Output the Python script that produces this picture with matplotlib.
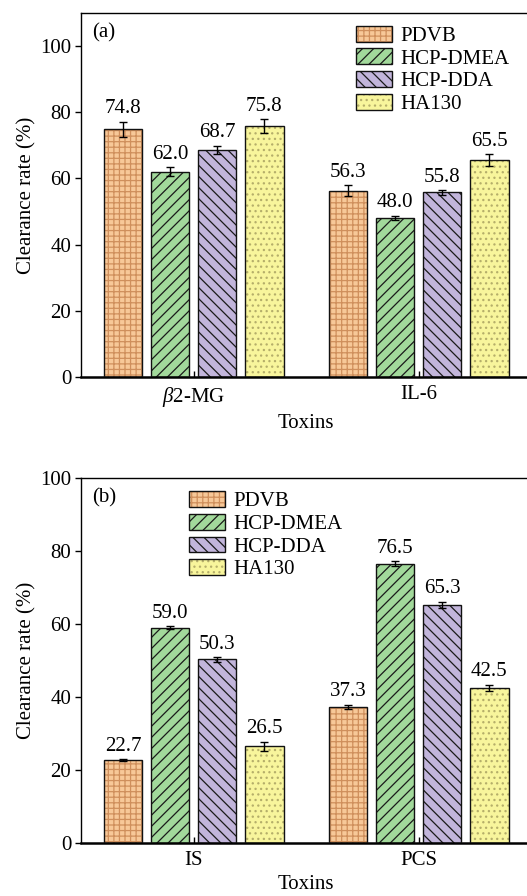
import matplotlib
matplotlib.use('Agg')
import matplotlib.pyplot as plt
import numpy as np
from matplotlib.patches import Patch

plt.rcParams['font.family'] = ['Liberation Serif', 'DejaVu Serif']
plt.rcParams['mathtext.fontset'] = 'custom'
plt.rcParams['mathtext.rm'] = 'Liberation Serif'
plt.rcParams['mathtext.it'] = 'Liberation Serif:italic'
plt.rcParams['hatch.linewidth'] = 0.9

# Adsorbents and their styling
materials = ['PDVB', 'HCP-DMEA', 'HCP-DDA', 'HA130']
fills = ['#f7c898', '#a2d99b', '#c2b5db', '#f8f59c']
hatch_colors = ['#cf8f5c', '#1a1a1a', '#1a1a1a', '#b5ae6a']
hatches = ['+++', '///', '\\\\\\', '...']

# (a) middle-molecule toxins
toxins_a = [r'$\beta$2-MG', 'IL-6']
rates_a = [[74.8, 56.3],   # PDVB
           [62.0, 48.0],   # HCP-DMEA
           [68.7, 55.8],   # HCP-DDA
           [75.8, 65.5]]   # HA130
errors_a = [[2.4, 1.7],
            [1.4, 0.7],
            [1.2, 0.7],
            [2.1, 1.8]]

# (b) protein-bound toxins
toxins_b = ['IS', 'PCS']
rates_b = [[22.7, 37.3],
           [59.0, 76.5],
           [50.3, 65.3],
           [26.5, 42.5]]
errors_b = [[0.3, 0.6],
            [0.4, 0.7],
            [0.6, 0.8],
            [1.2, 0.8]]

FS = 15

fig = plt.figure(figsize=(5.27, 8.96), dpi=100)
ax_a = fig.add_axes([81/527, (896-377)/896, 450/527, 364/896])
ax_b = fig.add_axes([81/527, (896-843)/896, 450/527, 365/896])


def draw(ax, cats, rates, errs, ymax, tag, leg_anchor):
    x = np.arange(len(cats))
    step, width = 0.209, 0.173
    handles = []
    for i, name in enumerate(materials):
        pos = x + (i - 1.5) * step
        ax.bar(pos, rates[i], width, color=fills[i], edgecolor=hatch_colors[i],
               hatch=hatches[i], linewidth=0, zorder=2)
        ax.bar(pos, rates[i], width, fill=False, edgecolor='#111111',
               linewidth=1.0, zorder=3)
        ax.errorbar(pos, rates[i], yerr=errs[i], fmt='none', ecolor='black',
                    elinewidth=1, capsize=3, capthick=1, zorder=4)
        for p, v, e in zip(pos, rates[i], errs[i]):
            ax.annotate(f'{v:.1f}', (p, v + e), xytext=(0, 2.5),
                        textcoords='offset points', ha='center', va='bottom',
                        fontsize=FS)
        handles.append((Patch(facecolor=fills[i], edgecolor=hatch_colors[i],
                              hatch=hatches[i], linewidth=0),
                        Patch(fill=False, edgecolor='#111111', linewidth=1.0)))

    ax.set_xlim(-0.5, 1.5)
    ax.set_ylim(0, ymax)
    ax.set_xticks(x)
    ax.set_xticklabels(cats, fontsize=FS)
    ax.set_yticks(np.arange(0, 101, 20))
    ax.tick_params(axis='y', direction='out', length=4, width=1,
                   labelsize=FS, pad=3)
    ax.tick_params(axis='x', direction='in', length=4, width=1,
                   labelsize=FS, pad=6)
    for s in ('left', 'top', 'right'):
        ax.spines[s].set_linewidth(1.0)
    ax.spines['bottom'].set_linewidth(1.8)

    ax.set_xlabel('Toxins', fontsize=FS, labelpad=3)
    ax.set_ylabel('Clearance rate (%)', fontsize=FS)
    ax.yaxis.set_label_coords(-0.10, 0.5)

    ax.text(0.024, 0.945, tag, transform=ax.transAxes, fontsize=FS,
            ha='left', va='center')

    ax.legend(handles, materials, loc='upper left', bbox_to_anchor=leg_anchor,
              frameon=False, fontsize=FS, borderpad=0, borderaxespad=0,
              handlelength=1.75, handleheight=0.8, handletextpad=0.4,
              labelspacing=0.12)


draw(ax_a, toxins_a, rates_a, errors_a, 110, '(a)', (0.611, 0.965))
draw(ax_b, toxins_b, rates_b, errors_b, 100, '(b)', (0.24, 0.964))

fig.savefig('out.png', dpi=100)
